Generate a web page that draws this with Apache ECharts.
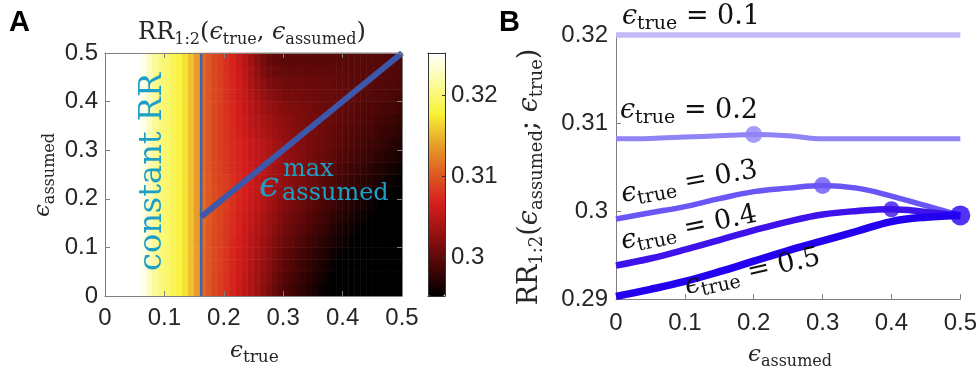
<!DOCTYPE html>
<html><head><meta charset="utf-8">
<script src="https://cdn.jsdelivr.net/npm/echarts@6/dist/echarts.min.js"></script>
<style>html,body{margin:0;padding:0;background:#fff}#c{width:980px;height:370px}</style>
</head><body><div id="c"></div>
<script>
// ---------- Panel A: heatmap RR_{1:2}(eps_true, eps_assumed) ----------
const epsTrueCenters = [0.005,0.015,0.025,0.035,0.045,0.055,0.065,0.075,0.085,0.095,
  0.105,0.115,0.125,0.135,0.145,0.155,0.165,0.175,0.185,0.195,
  0.205,0.215,0.225,0.235,0.245,0.255,0.265,0.275,0.285,0.295,
  0.305,0.315,0.325,0.335,0.345,0.355,0.365,0.375,0.385,0.395,
  0.405,0.415,0.425,0.435,0.445,0.455,0.465,0.475,0.485,0.495];
const epsAssumedCenters = [0.0125,0.0375,0.0625,0.0875,0.1125,0.1375,0.1625,0.1875,0.2125,0.2375,
  0.2625,0.2875,0.3125,0.3375,0.3625,0.3875,0.4125,0.4375,0.4625,0.4875];
// values in units of 1e-4 above 0.29
// columns eps_true < 0.16: RR constant in eps_assumed
const rrConstPart = [352,352,352,352,352,352,345,328,312,302,297,290,282,270,255,238];
// columns eps_true >= 0.16, rows from eps_assumed = 0.0125 (bottom) to 0.4875 (top)
const rrRightPart = [
 [210,200,191,185,178,169,160,151,142,133,124,115,106,97,90,85,80,74,69,63,58,53,47,42,37,34,31,27,24,20,17,14,10,7],
 [210,200,191,185,178,169,161,152,143,135,126,118,109,100,93,88,83,77,72,67,62,56,51,46,41,38,35,31,28,24,21,18,14,11],
 [210,200,192,186,179,171,162,154,146,137,129,121,113,104,97,92,87,82,77,71,66,61,56,51,46,43,39,36,32,29,25,22,18,15],
 [210,200,192,186,179,171,163,155,147,139,131,123,115,107,100,95,90,85,80,75,70,65,60,55,51,48,44,40,37,33,30,26,22,19],
 [211,201,192,187,180,172,165,157,149,142,134,126,119,111,105,100,95,90,85,81,76,71,66,61,57,54,50,46,43,39,36,32,28,25],
 [211,201,193,188,181,174,167,159,152,144,137,130,122,115,109,104,99,95,90,85,81,76,71,66,62,59,55,52,48,45,41,38,34,31],
 [212,202,194,189,182,175,168,161,154,147,140,133,126,119,113,108,104,99,95,90,86,81,77,72,68,65,61,57,54,50,47,43,39,36],
 [212,202,194,189,184,177,170,164,157,150,144,137,130,123,118,113,109,104,100,95,91,86,82,77,73,70,66,63,59,56,52,49,45,42],
 [211,201,193,188,184,178,171,165,159,152,146,140,134,127,122,117,113,109,104,100,95,91,87,82,78,75,72,68,65,61,58,55,51,48],
 [211,201,192,187,183,177,171,165,159,153,147,141,135,129,124,120,116,112,108,104,99,95,91,87,83,80,77,74,70,67,64,60,57,54],
 [210,200,191,186,181,176,170,164,159,153,148,142,136,131,126,122,118,114,111,107,103,99,95,91,87,84,81,78,75,71,68,65,62,59],
 [210,200,191,185,179,174,169,164,158,153,148,142,137,132,127,124,120,116,113,109,106,102,98,95,92,89,86,83,80,77,74,71,68,65],
 [210,200,191,185,179,174,169,164,158,153,148,142,137,132,127,124,121,118,114,111,108,104,101,98,95,92,89,87,84,81,79,76,73,70],
 [210,200,191,185,179,173,166,159,153,147,142,137,132,128,125,122,119,116,113,111,108,105,102,99,97,94,92,90,87,85,82,80,78,75],
 [210,200,191,185,179,172,165,158,151,144,138,133,129,125,122,120,117,115,113,110,108,106,104,101,99,97,95,93,91,88,86,84,82,80],
 [210,200,191,185,178,171,164,156,148,141,134,129,125,121,118,116,115,113,111,109,107,106,104,102,100,99,97,95,93,92,90,88,87,85],
 [210,200,191,185,178,171,163,154,145,136,129,123,119,116,113,112,111,110,109,107,106,105,104,103,101,100,99,97,96,94,93,92,90,89],
 [210,200,191,185,178,170,162,152,141,131,123,117,113,111,109,108,107,106,105,105,104,103,102,101,100,99,98,97,96,95,94,93,92,91],
 [210,200,191,185,177,169,160,150,138,127,117,110,106,104,103,102,102,102,101,101,100,100,99,99,99,98,98,97,96,96,95,95,94,93],
 [210,200,191,185,176,168,158,147,134,122,112,105,101,99,98,98,98,98,98,97,97,97,97,97,97,97,96,96,96,96,96,95,95,95]
];
const colorbarMin = 0.2952, colorbarMax = 0.3252;
const colorbarTicks = [0.3, 0.31, 0.32];
// overlay lines in panel A
const constBoundaryX = [0.162, 0.162], constBoundaryY = [0, 0.5];
const maxAssumedX = [0.162, 0.5], maxAssumedY = [0.163, 0.5];

// ---------- Panel B: RR_{1:2}(eps_assumed; eps_true) ----------
const epsAssumed = [0,0.05,0.1,0.15,0.2,0.25,0.3,0.35,0.4,0.45,0.5];
const rrTrue01 = [0.32,0.32,0.32,0.32,0.32,0.32,0.32,0.32,0.32,0.32,0.32];
const rrTrue02 = [0.3082,0.30825,0.3084,0.30855,0.3087,0.30855,0.3082,0.3082,0.3082,0.3082,0.3082];
const rrTrue03 = [0.2991,0.2998,0.3005,0.3014,0.3022,0.3026,0.3029,0.3026,0.3017,0.3006,0.2995];
const rrTrue04 = [0.2938,0.2946,0.2956,0.2967,0.2978,0.2988,0.2996,0.3000,0.3002,0.2999,0.2995];
const rrTrue05 = [0.2903,0.2911,0.2920,0.2931,0.2943,0.2955,0.2966,0.2977,0.2988,0.2993,0.2995];
const peakX = [0.2, 0.3, 0.4, 0.5];
const peakY = [0.3087, 0.3029, 0.3002, 0.2995];
const trueLabels = ['0.1','0.2','0.3','0.4','0.5'];

// ---------- build ----------
const heatData = [];
epsAssumedCenters.forEach((a, j) => {
  const row = rrConstPart.concat(rrRightPart[j]);
  row.forEach((v, i) => heatData.push([i, j, 0.29 + v / 10000]));
});
const zip = (xs, ys) => xs.map((x, i) => [x, ys[i]]);

const SERIF = 'DejaVu Serif';
const SANS = 'Liberation Sans';
const TXT = '#262626';
const AX = '#808080';
const CYAN = '#1e9fc6';
const lineCols = ['#c1baf7','#8f83f5','#6a56f4','#3e12eb','#2400f0'];
const lineW = [5.5,5,5.5,6.5,7.5];
const peakSize = [17,17,16,20];
const hot = ['#000000','#4a0606','#941010','#d41c1c','#de5a22','#e8a02a','#f8f236','#fbfb9c','#ffffff'];

// math text helper: segs = [[kind, text]], kind m (main), i (italic main), s (sub)
function mathText(xs, ys, rot, segs, S, s, color, align) {
  const P = 3;
  const d = P + 0.2 * S;  // offset from baseline to line bottom
  const text = segs.map(([k, t]) => '{' + k + '|' + t + '}').join('');
  const base = {fontFamily: SERIF, fill: color, verticalAlign: 'bottom'};
  return {
    type: 'text', x: xs + d * Math.sin(rot), y: ys + d * Math.cos(rot), rotation: rot, z: 100,
    style: {text, align: align || 'left', verticalAlign: 'bottom', rich: {
      m: Object.assign({}, base, {fontSize: S, padding: [0,0,P,0]}),
      i: Object.assign({}, base, {fontSize: S, fontStyle: 'italic', padding: [0,0,P,0]}),
      s: Object.assign({}, base, {fontSize: s})
    }}
  };
}
function plainText(x, baseline, str, size, opts) {
  const o = opts || {};
  const rot = o.rotation || 0;
  const d = 0.2 * size;
  return {type: 'text', x: x + d * Math.sin(rot), y: baseline + d * Math.cos(rot), rotation: rot, z: 100,
    style: {text: str, fontFamily: o.family || SERIF, fontSize: size, fontStyle: o.italic ? 'italic' : 'normal',
      fontWeight: o.bold ? 'bold' : 'normal', fill: o.color || TXT, align: o.align || 'left', verticalAlign: 'bottom'}};
}

const valAxisCommon = {
  axisLine: {show: true, onZero: false, lineStyle: {color: AX, width: 1}},
  axisTick: {show: true, inside: true, length: 5, lineStyle: {color: AX}},
  splitLine: {show: false},
  axisLabel: {color: TXT, fontSize: 24, fontFamily: SANS}
};
function vax(extra) { return echarts.util.merge(echarts.util.clone(valAxisCommon), extra, true); }

const option = {
  animation: false,
  backgroundColor: '#ffffff',
  grid: [
    {left: 105, top: 53, width: 297, height: 243},
    {left: 428, top: 53, width: 17, height: 243},
    {left: 616, top: 35, width: 347, height: 264}
  ],
  xAxis: [
    {gridIndex: 0, type: 'category', data: epsTrueCenters, show: false, position: 'bottom'},
    vax({gridIndex: 0, type: 'value', min: 0, max: 0.5, interval: 0.1, position: 'bottom', z: 5, axisLabel: {margin: 10}}),
    vax({gridIndex: 0, type: 'value', min: 0, max: 0.5, interval: 0.1, position: 'top', z: 5, axisLabel: {show: false}}),
    vax({gridIndex: 1, type: 'value', min: 0, max: 1, position: 'bottom', z: 6, axisTick: {show: false}, axisLabel: {show: false}, axisLine: {lineStyle: {color: '#333'}}}),
    vax({gridIndex: 1, type: 'value', min: 0, max: 1, position: 'top', z: 6, axisTick: {show: false}, axisLabel: {show: false}, axisLine: {lineStyle: {color: '#333'}}}),
    vax({gridIndex: 2, type: 'value', min: 0, max: 0.5, interval: 0.1, position: 'bottom', axisLabel: {margin: 12}})
  ],
  yAxis: [
    {gridIndex: 0, type: 'category', data: epsAssumedCenters, show: false, position: 'left'},
    vax({gridIndex: 0, type: 'value', min: 0, max: 0.5, interval: 0.1, position: 'left', z: 5, axisLabel: {margin: 7}}),
    vax({gridIndex: 0, type: 'value', min: 0, max: 0.5, interval: 0.1, position: 'right', z: 5, axisLabel: {show: false}}),
    vax({gridIndex: 1, type: 'value', min: colorbarMin, max: colorbarMax, position: 'right', z: 6,
      axisLine: {lineStyle: {color: '#333'}},
      axisTick: {inside: true, length: 3, customValues: colorbarTicks, lineStyle: {color: '#333'}},
      axisLabel: {margin: 6, customValues: colorbarTicks}}),
    vax({gridIndex: 1, type: 'value', min: colorbarMin, max: colorbarMax, position: 'left', z: 6,
      axisLine: {lineStyle: {color: '#333'}}, axisTick: {show: false}, axisLabel: {show: false}}),
    vax({gridIndex: 2, type: 'value', min: 0.29, max: 0.32, interval: 0.01, position: 'left', axisLabel: {margin: 8}})
  ],
  visualMap: {
    type: 'continuous', seriesIndex: 0, min: colorbarMin, max: colorbarMax, calculable: false,
    show: true, left: 428, top: 53, itemWidth: 17, itemHeight: 243, padding: 0, hoverLink: false,
    inRange: {color: hot}
  },
  series: [
    {type: 'heatmap', xAxisIndex: 0, yAxisIndex: 0, data: heatData, emphasis: {disabled: true}},
    {type: 'line', xAxisIndex: 1, yAxisIndex: 1, data: zip(constBoundaryX, constBoundaryY), symbol: 'none',
      lineStyle: {color: '#4761b1', width: 2.5}, z: 4},
    {type: 'line', xAxisIndex: 1, yAxisIndex: 1, data: zip(maxAssumedX, maxAssumedY), symbol: 'none',
      lineStyle: {color: '#3d58aa', width: 6}, z: 4},
  ].concat([rrTrue01, rrTrue02, rrTrue03, rrTrue04, rrTrue05].map((ys, k) => ({
    type: 'line', xAxisIndex: 5, yAxisIndex: 5, data: zip(epsAssumed, ys), symbol: 'none', smooth: 0.4,
    clip: false, lineStyle: {color: lineCols[k], width: lineW[k]}, z: 3 + k
  }))).concat(peakX.map((x, k) => ({
    type: 'scatter', xAxisIndex: 5, yAxisIndex: 5, data: [[x, peakY[k]]], symbol: 'circle',
    symbolSize: peakSize[k], clip: false, itemStyle: {color: lineCols[k + 1]}, z: 10
  }))),
  graphic: [
    plainText(9, 32, 'A', 29, {family: SANS, bold: true, color: '#000'}),
    plainText(499, 32, 'B', 29, {family: SANS, bold: true, color: '#000'}),
    mathText(252, 40, 0, [['m','RR'],['s','1:2'],['m','('],['i','ϵ'],['s','true'],['m',', '],['i','ϵ'],['s','assumed'],['m',')']], 24, 16, TXT, 'center'),
    mathText(230, 358, 0, [['i','ϵ'],['s','true']], 23, 17, TXT, 'left'),
    mathText(50, 175, Math.PI / 2, [['i','ϵ'],['s','assumed']], 23, 16, TXT, 'center'),
    mathText(748, 362, 0, [['i','ϵ'],['s','assumed']], 23, 16, TXT, 'left'),
    mathText(538, 177, Math.PI / 2, [['m','RR'],['s','1:2'],['m','('],['i','ϵ'],['s','assumed'],['m','; '],['i','ϵ'],['s','true'],['m',')']], 27, 18, TXT, 'center'),
    plainText(162, 172, 'constant RR', 32, {color: CYAN, align: 'center', rotation: Math.PI / 2}),
    plainText(259, 197, 'ϵ', 36, {color: CYAN, italic: true}),
    plainText(283, 177, 'max', 24, {color: CYAN}),
    plainText(282, 201, 'assumed', 24, {color: CYAN}),
    mathText(622, 25, 0, [['i','ϵ'],['s','true'],['m',' = ' + trueLabels[0]]], 27, 19, '#111', 'left'),
    mathText(620, 119, 0, [['i','ϵ'],['s','true'],['m',' = ' + trueLabels[1]]], 27, 19, '#111', 'left'),
    mathText(623, 203, 10.5 * Math.PI / 180, [['i','ϵ'],['s','true'],['m',' = ' + trueLabels[2]]], 27, 19, '#111', 'left'),
    mathText(623, 250, 11.5 * Math.PI / 180, [['i','ϵ'],['s','true'],['m',' = ' + trueLabels[3]]], 27, 19, '#111', 'left'),
    mathText(687, 295, 12.5 * Math.PI / 180, [['i','ϵ'],['s','true'],['m',' = ' + trueLabels[4]]], 27, 19, '#111', 'left')
  ]
};
const chart = echarts.init(document.getElementById('c'), null, {renderer: 'canvas'});
chart.setOption(option);
</script>
</body></html>
